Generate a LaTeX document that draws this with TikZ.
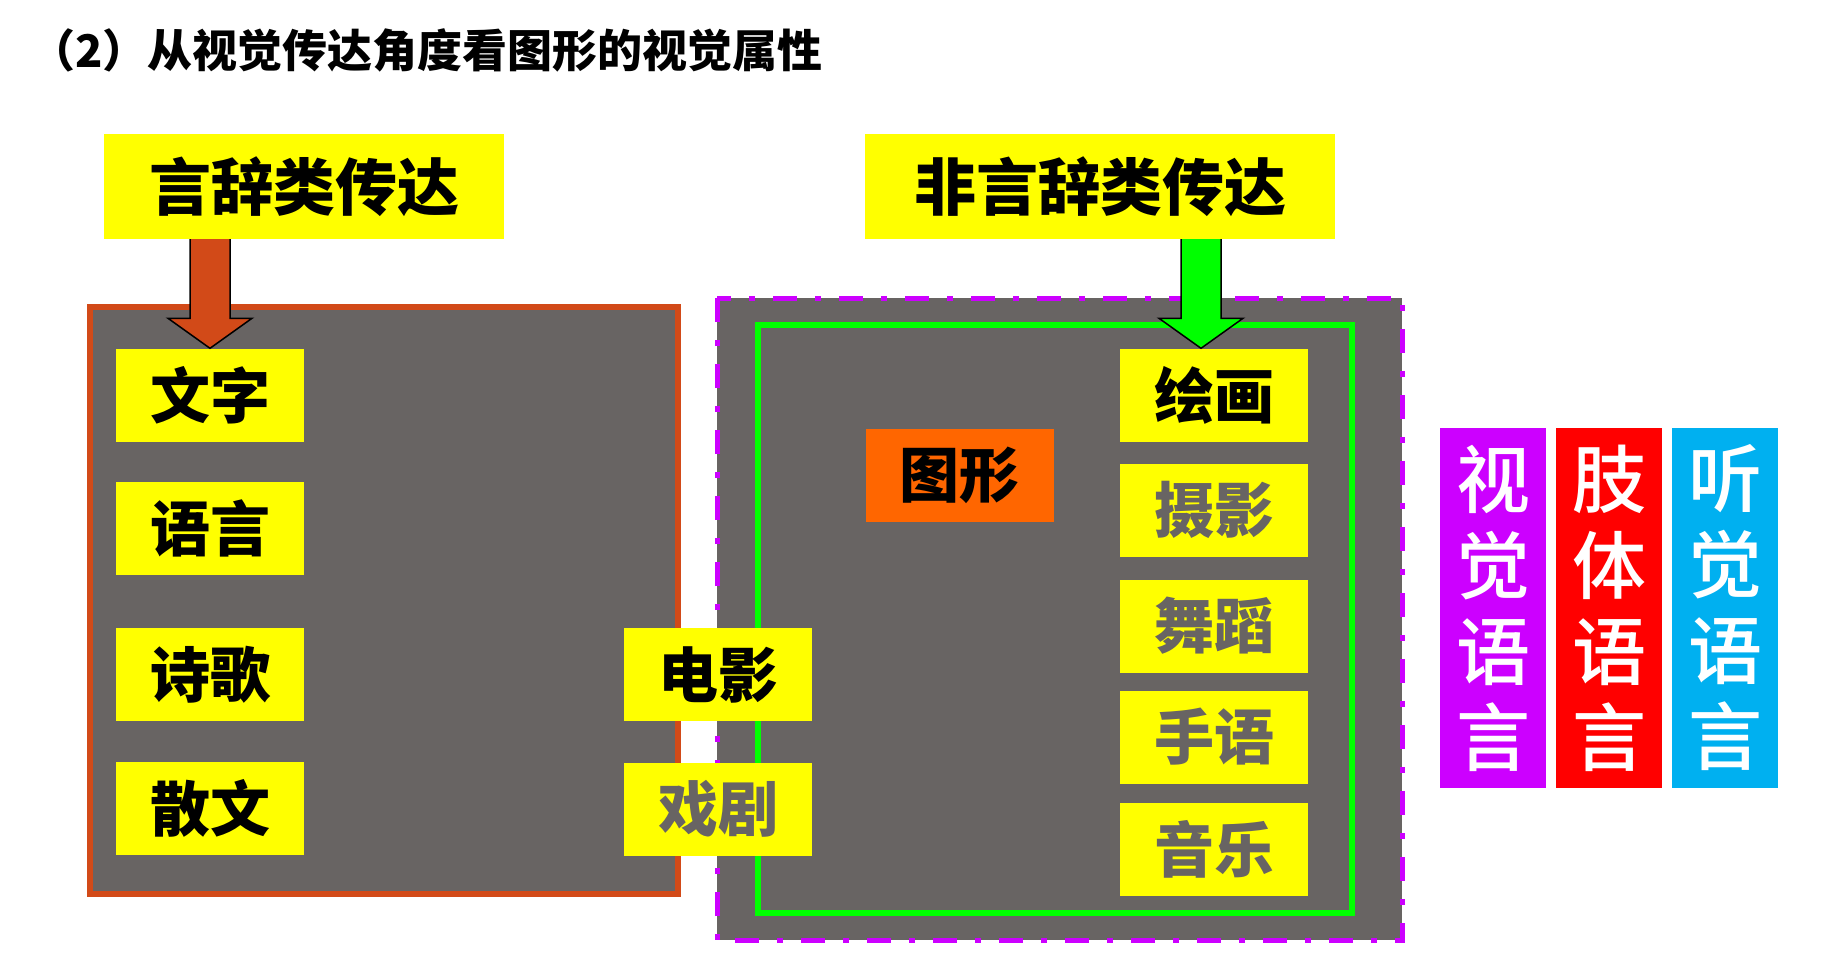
\documentclass[tikz,border=0pt]{standalone}
\usepackage{fontspec}
\setmainfont{Noto Sans CJK SC}
\newfontfamily\cjkmedium{Noto Sans CJK SC Medium}
\usetikzlibrary{calc}

\definecolor{boxyellow}{RGB}{255,255,0}
\definecolor{panelgray}{RGB}{104,100,99}
\definecolor{brick}{RGB}{210,74,24}
\definecolor{brightgreen}{RGB}{0,255,0}
\definecolor{vpurple}{RGB}{204,0,255}
\definecolor{vred}{RGB}{255,0,0}
\definecolor{skyblue}{RGB}{0,176,240}
\definecolor{tuxingorange}{RGB}{255,102,0}

% fat arrow: colour, top of shaft, tip
\newcommand{\fatarrow}[3]{
\draw[fill=#1, line width=1.5pt]
($(#2)+(-20,0)$) -- ($(#3)+(-20,-30)$) -- ($(#3)+(-42,-30)$) -- (#3)
-- ($(#3)+(42,-30)$) -- ($(#3)+(20,-30)$) -- ($(#2)+(20,0)$);
}

\begin{document}
\begin{tikzpicture}[
x=1pt,
y=-1pt,
every node/.style={
inner sep=0pt
},
head/.style={
fill=boxyellow,
minimum height=105pt,
font=\bfseries\fontsize{62}{62}\selectfont
},
item/.style={
fill=boxyellow,
minimum width=188pt,
minimum height=93pt,
font=\bfseries\fontsize{60}{60}\selectfont
},
bar/.style={
minimum width=106pt,
minimum height=360pt,
text=white,
align=center,
font=\cjkmedium\fontsize{74}{86}\selectfont
}
]

\useasboundingbox (0,0) rectangle (1832,954);

\node[anchor=west, font=\bfseries\fontsize{45}{45}\selectfont] (title) at (30,50) {（2）从视觉传达角度看图形的视觉属性};

% panels
\draw[brick, line width=6pt, fill=panelgray] (90,307) rectangle (678,894);
\draw[vpurple, line width=5pt, fill=panelgray, dash pattern=on 24pt off 18pt on 6pt off 18pt] (717,298) rectangle (1402,940);
\draw[brightgreen, line width=6pt] (758,324.5) rectangle (1352,913);

\node[head, minimum width=400pt] (yanci) at (304,186.5) {言辞类传达};
\node[head, minimum width=470pt] (feiyanci) at (1100,186.5) {非言辞类传达};

\node[item] (wenzi) at (210,395) {文字};
\node[item] (yuyan) at (210,528) {语言};
\node[item] (shige) at (210,674.5) {诗歌};
\node[item] (sanwen) at (210,808.5) {散文};

\node[item] (dianying) at (718,674.5) {电影};
\node[item, text=panelgray] (xiju) at (718,809) {戏剧};

\node[item, fill=tuxingorange] (tuxing) at (959.5,475) {图形};

\node[item] (huihua) at (1214,395) {绘画};
\node[item, text=panelgray] (sheying) at (1214,510) {摄影};
\node[item, text=panelgray] (wudao) at (1214,626) {舞蹈};
\node[item, text=panelgray] (shouyu) at (1214,737) {手语};
\node[item, text=panelgray] (yinyue) at (1214,849) {音乐};

\node[bar, fill=vpurple] (shijue) at (1493,608) {视\\觉\\语\\言};
\node[bar, fill=vred] (zhiti) at (1609,608) {肢\\体\\语\\言};
\node[bar, fill=skyblue] (tingjue) at (1725,608) {听\\觉\\语\\言};

% arrows
\coordinate (gtip) at ($(huihua.north)+(-13,0)$);
\fatarrow{brick}{wenzi.north |- yanci.south}{wenzi.north}
\fatarrow{brightgreen}{gtip |- feiyanci.south}{gtip}

\end{tikzpicture}
\end{document}
